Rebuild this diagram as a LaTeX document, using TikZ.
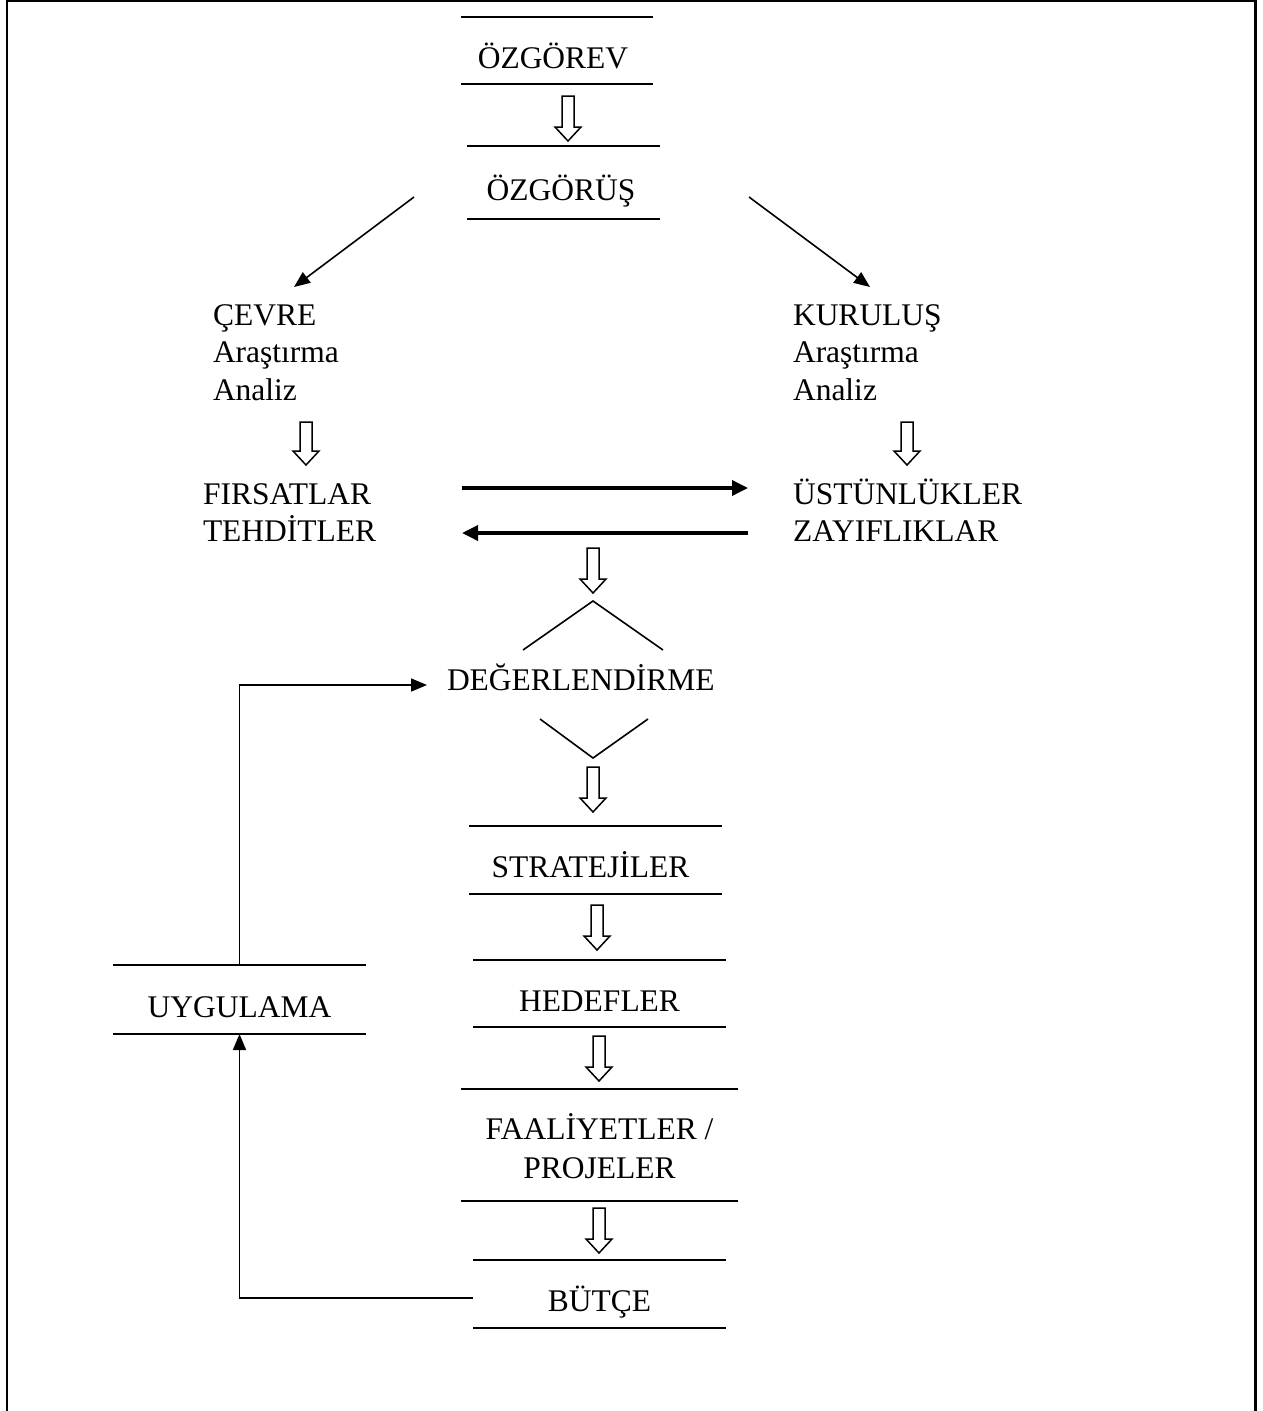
\documentclass[tikz,border=0pt]{standalone}
\usepackage{fontspec}
\setmainfont{Liberation Serif}
\usetikzlibrary{arrows.meta,calc}
\begin{document}
\begin{tikzpicture}[x=1pt,y=-1pt,
  every node/.style={inner sep=0pt, outer sep=0pt, font=\fontsize{31.5}{37.5}\selectfont},
  band/.style n args={2}{minimum width=#1, minimum height=#2, text height=35pt, text depth=0pt},
  bandline/.style={line width=2pt},
  hollow/.style={line width=1.5pt, to path={let \p1=(\tikztostart), \p2=(\tikztotarget) in
    (\x1-6pt,\y1) -- (\x1+6pt,\y1) -- (\x1+6pt,\y2+14pt) -- (\x1+13pt,\y2+14pt) -- (\x1,\y2)
    -- (\x1-13pt,\y2+14pt) -- (\x1-6pt,\y2+14pt) -- cycle}},
  thinarrow/.style={line width=1.6pt, -{Triangle[length=16pt,width=13pt]}},
  thickarrow/.style={line width=3.5pt, -{Triangle[length=16pt,width=15pt]}},
  diamondline/.style={line width=1.6pt},
  frame/.style={line width=2.2pt}
]
\useasboundingbox (0,0) rectangle (1262,1411);
% frame
\draw[frame] (7,1411) -- (7,1.1) -- (1255.5,1.1) -- (1255.5,1411);

% bands
\node[band={192pt}{67pt}] (ozgorev) at (557,50.5) {ÖZGÖREV\kern8pt};
\node[band={193pt}{73pt}] (ozgorus) at (563.5,182.5) {ÖZGÖRÜŞ\kern5pt};
\node[band={253pt}{68pt}] (strat) at (595.5,860) {STRATEJİLER\kern10pt};
\node[band={253pt}{67pt}] (hedef) at (599.5,993.5) {HEDEFLER};
\node[band={277pt}{112pt}, text height=20pt, text depth=32pt, font=\fontsize{31.5}{39}\selectfont] (faal) at (599.5,1145)
  {\begin{tabular}[t]{@{}c@{}}FAALİYETLER /\\PROJELER\end{tabular}};
\node[band={253pt}{68pt}] (butce) at (599.5,1294) {BÜTÇE};
\node[band={253pt}{69pt}] (uyg) at (239.5,999.5) {UYGULAMA};
\foreach \n in {ozgorev,ozgorus,strat,hedef,faal,butce,uyg}{
  \draw[bandline] (\n.north west) -- (\n.north east) (\n.south west) -- (\n.south east);
}

% side texts
\node[anchor=base west] (cevre) at (213,325) {\begin{tabular}[t]{@{}l@{}}ÇEVRE\\Araştırma\\Analiz\end{tabular}};
\node[anchor=base west] (kurulus) at (793,325) {\begin{tabular}[t]{@{}l@{}}KURULUŞ\\Araştırma\\Analiz\end{tabular}};
\node[anchor=base west] (firsat) at (203,504) {\begin{tabular}[t]{@{}l@{}}FIRSATLAR\\TEHDİTLER\end{tabular}};
\node[anchor=base west] (ustun) at (793,504) {\begin{tabular}[t]{@{}l@{}}ÜSTÜNLÜKLER\\ZAYIFLIKLAR\end{tabular}};
\node[anchor=base west, inner xsep=20pt, text height=10pt, text depth=0pt] (deger) at (427,690) {DEĞERLENDİRME};

% named free ends
\coordinate (dl1) at (414,197);  \coordinate (dl2) at (294,287);
\coordinate (dr1) at (749,197);  \coordinate (dr2) at (870,287);
\coordinate (hl1) at (306,422);  \coordinate (hl2) at (306,465);
\coordinate (hr1) at (907,422);  \coordinate (hr2) at (907,465);
\coordinate (hc1) at (593,548);  \coordinate (hc2) at (593,593);
\coordinate (hd1) at (593,767);
\coordinate (ta1) at (462,488);  \coordinate (ta2) at (748,488);
\coordinate (tb1) at (748,533);  \coordinate (tb2) at (462,533);
\coordinate (dtop) at (593,601); \coordinate (dtl) at (523,650); \coordinate (dtr) at (663,650);
\coordinate (dbot) at (593,758); \coordinate (dbl) at (540,719); \coordinate (dbr) at (648,719);

% hollow arrows
\draw[hollow] ([xshift=11pt,yshift=-12pt]ozgorev.south) to ([yshift=5pt]ozgorus.north);
\draw[hollow] (hl1) to (hl2);
\draw[hollow] (hr1) to (hr2);
\draw[hollow] (hc1) to (hc2);
\draw[hollow] (hd1) to ([yshift=14pt]strat.north);
\draw[hollow] ([xshift=1.5pt,yshift=-11pt]strat.south) to ([yshift=10pt]hedef.north);
\draw[hollow] ([xshift=-0.5pt,yshift=-9pt]hedef.south) to ([yshift=8pt]faal.north);
\draw[hollow] ([xshift=-0.5pt,yshift=-7pt]faal.south) to ([yshift=7pt]butce.north);

% diagonal arrows
\draw[thinarrow] (dl1) -- (dl2);
\draw[thinarrow] (dr1) -- (dr2);

% thick arrows
\draw[thickarrow] (ta1) -- (ta2);
\draw[thickarrow] (tb1) -- (tb2);

% diamond
\draw[diamondline] (dtl) -- (dtop) -- (dtr);
\draw[diamondline] (dbl) -- (dbot) -- (dbr);

% feedback loop
\draw[thinarrow] (uyg.north) |- (deger.west);
\draw[thinarrow] ([yshift=-4pt]butce.west) -| (uyg.south);
\end{tikzpicture}
\end{document}
